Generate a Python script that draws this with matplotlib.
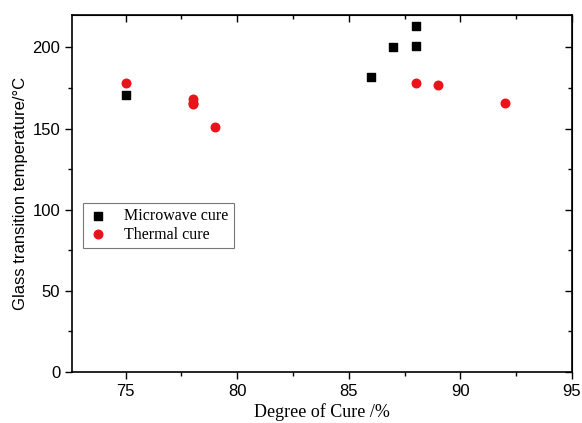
import matplotlib
matplotlib.use('Agg')
import matplotlib.pyplot as plt
from matplotlib.ticker import MultipleLocator

plt.rcParams['font.family'] = ['Liberation Serif', 'DejaVu Serif']

# microwave cure
mw_cure = [75, 86, 87, 88, 88]
mw_tg = [171, 182, 200, 201, 213]
# thermal cure
th_cure = [75, 78, 78, 78, 79, 88, 89, 92]
th_tg = [178, 168, 166, 165, 151, 178, 177, 166]

fig = plt.figure(figsize=(5.82, 4.23), dpi=100)
ax = fig.add_axes([0.1237, 0.1206, 0.8591, 0.8439])

ax.scatter(mw_cure, mw_tg, marker='s', s=38, color='black', label='Microwave cure', zorder=3)
ax.scatter(th_cure, th_tg, marker='o', s=38, color='#e8141a', label='Thermal cure', zorder=3)

ax.set_xlim(72.6, 95)
ax.set_ylim(0, 220)
ax.xaxis.set_major_locator(MultipleLocator(5))
ax.xaxis.set_minor_locator(MultipleLocator(2.5))
ax.yaxis.set_major_locator(MultipleLocator(50))
ax.yaxis.set_minor_locator(MultipleLocator(25))
ax.tick_params(which='both', direction='out', width=1)
ax.tick_params(which='major', length=5)
ax.tick_params(which='minor', length=3)
for lab in ax.get_xticklabels() + ax.get_yticklabels():
    lab.set_family('Liberation Sans')
    lab.set_fontsize(12)
for s in ax.spines.values():
    s.set_linewidth(1.2)

# inward ticks on top and right
axt = ax.secondary_xaxis('top')
axt.xaxis.set_major_locator(MultipleLocator(5))
axt.xaxis.set_minor_locator(MultipleLocator(2.5))
axt.tick_params(which='both', direction='in', labeltop=False, width=1)
axt.tick_params(which='major', length=5)
axt.tick_params(which='minor', length=3)
axr = ax.secondary_yaxis('right')
axr.yaxis.set_major_locator(MultipleLocator(50))
axr.yaxis.set_minor_locator(MultipleLocator(25))
axr.tick_params(which='both', direction='in', labelright=False, width=1)
axr.tick_params(which='major', length=5)
axr.tick_params(which='minor', length=3)

ax.set_xlabel('Degree of Cure /%', fontsize=13, labelpad=3)
ax.set_ylabel('Glass transition temperature/°C', fontsize=12, labelpad=3,
              family='Liberation Sans')

leg = ax.legend(loc='lower left', bbox_to_anchor=(0.022, 0.347), borderaxespad=0,
                fontsize=11.5, frameon=True, fancybox=False, edgecolor='#555555',
                handlelength=1.2, handletextpad=1.0, borderpad=0.35, labelspacing=0.15)
leg.get_frame().set_linewidth(0.8)

fig.savefig('out.png', dpi=100)
